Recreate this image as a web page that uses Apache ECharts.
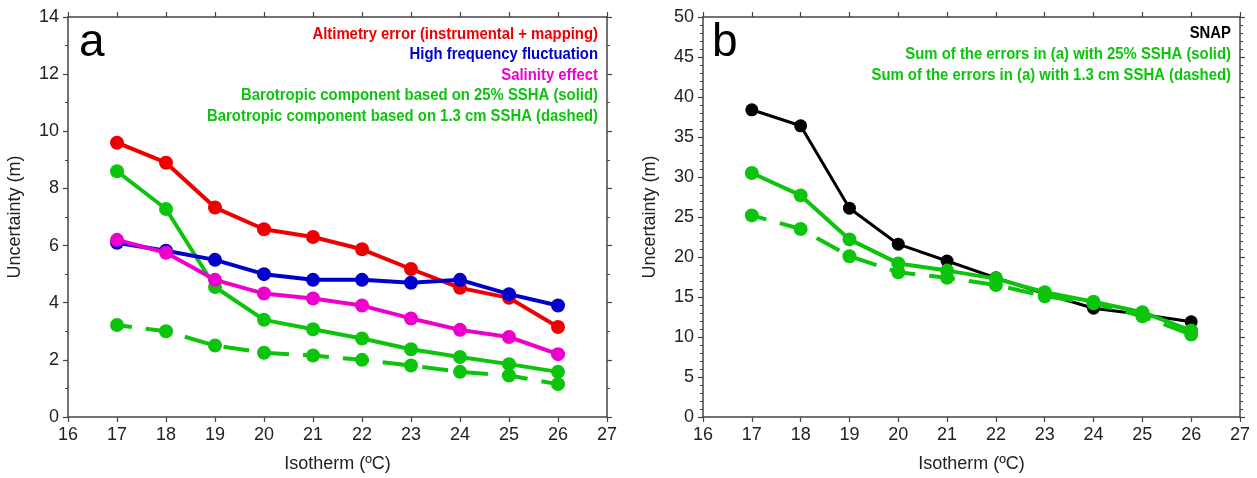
<!DOCTYPE html>
<html>
<head>
<meta charset="utf-8">
<script src="https://cdn.jsdelivr.net/npm/echarts@6/dist/echarts.min.js"></script>
<style>
  html, body { margin: 0; padding: 0; background: #fff; }
  #chart { width: 1257px; height: 478px; }
</style>
</head>
<body>
<div id="chart"></div>
<script>
// Isotherm depths (ºC) shared by both panels
const isotherms = [17, 18, 19, 20, 21, 22, 23, 24, 25, 26];

// Panel a: individual error components (m)
const altimetryError   = [9.6, 8.9, 7.33, 6.57, 6.3, 5.87, 5.18, 4.52, 4.17, 3.15];
const highFreqFluct    = [6.1, 5.82, 5.5, 5.0, 4.8, 4.8, 4.7, 4.8, 4.3, 3.9];
const salinityEffect   = [6.2, 5.75, 4.8, 4.32, 4.15, 3.9, 3.45, 3.05, 2.8, 2.2];
const barotropicSolid  = [8.6, 7.28, 4.55, 3.4, 3.07, 2.75, 2.37, 2.1, 1.85, 1.58];
const barotropicDashed = [3.22, 3.0, 2.5, 2.25, 2.15, 2.0, 1.8, 1.58, 1.45, 1.15];

// Panel b: total uncertainty (m)
const snap      = [38.4, 36.4, 26.1, 21.6, 19.5, 17.4, 15.4, 13.6, 12.8, 11.9];
const sumSolid  = [30.5, 27.7, 22.2, 19.2, 18.3, 17.3, 15.6, 14.4, 13.1, 10.8];
const sumDashed = [25.2, 23.5, 20.1, 18.1, 17.4, 16.5, 15.1, 14.2, 12.6, 10.3];

const GREEN = '#0dc40d';

// Legend captions
const legendA = [
  ['Altimetry error (instrumental + mapping)', '#ee0000'],
  ['High frequency fluctuation', '#0000cc'],
  ['Salinity effect', '#ee00cc'],
  ['Barotropic component based on 25% SSHA (solid)', GREEN],
  ['Barotropic component based on 1.3 cm SSHA (dashed)', GREEN]
];
const legendB = [
  ['SNAP', '#000000'],
  ['Sum of the errors in (a) with 25% SSHA (solid)', GREEN],
  ['Sum of the errors in (a) with 1.3 cm SSHA (dashed)', GREEN]
];

const FRAME = '#444444';
const LABEL_FONT = 'Liberation Sans, Arial, Helvetica, sans-serif';
const LEGEND_FONT = 'bold 17px "Liberation Sans", Arial, sans-serif';
const DASH = [26, 14];

const pairs = vals => isotherms.map((t, i) => [t, vals[i]]);

function xAxes(gridIndex) {
  const base = {
    type: 'value', gridIndex, min: 16, max: 27, interval: 1,
    axisLine: { show: true, onZero: false, lineStyle: { color: FRAME, width: 1.5 } },
    axisTick: { show: true, inside: false, length: 5, lineStyle: { color: FRAME, width: 1.2 } },
    splitLine: { show: false }
  };
  return [
    Object.assign({}, base, {
      position: 'bottom',
      name: 'Isotherm (ºC)', nameLocation: 'middle', nameGap: 38,
      nameTextStyle: { fontFamily: LABEL_FONT, fontSize: 18, color: '#222' },
      axisLabel: { fontFamily: LABEL_FONT, fontSize: 18, color: '#222', margin: 9 }
    }),
    Object.assign({}, base, { position: 'top', axisLabel: { show: false } })
  ];
}

function yAxes(gridIndex, max, interval, minorSplit) {
  const base = {
    type: 'value', gridIndex, min: 0, max, interval,
    axisLine: { show: true, onZero: false, lineStyle: { color: FRAME, width: 1.5 } },
    axisTick: { show: true, inside: false, length: 5, lineStyle: { color: FRAME, width: 1.2 } },
    minorTick: { show: true, splitNumber: minorSplit, length: 3, lineStyle: { color: FRAME, width: 1 } },
    splitLine: { show: false }
  };
  return [
    Object.assign({}, base, {
      position: 'left',
      name: 'Uncertainty (m)', nameLocation: 'middle', nameGap: 44,
      nameTextStyle: { fontFamily: LABEL_FONT, fontSize: 18, color: '#222' },
      axisLabel: { fontFamily: LABEL_FONT, fontSize: 18, color: '#222', margin: 9 }
    }),
    Object.assign({}, base, { position: 'right', axisLabel: { show: false } })
  ];
}

function line(name, vals, color, xi, yi, opts) {
  opts = opts || {};
  return {
    name, type: 'line', xAxisIndex: xi, yAxisIndex: yi,
    data: pairs(vals),
    symbol: 'circle', symbolSize: opts.size || 14,
    showSymbol: true, animation: false,
    itemStyle: { color },
    lineStyle: Object.assign(
      { color, width: opts.width || 4, type: opts.dash || 'solid' },
      opts.dash ? { dashOffset: 11 } : {}
    ),
    z: opts.z || 2
  };
}

// Right-aligned, horizontally condensed caption lines
function legendText(items, rightEdge, centers) {
  return items.map((it, i) => ({
    type: 'text', x: rightEdge, y: centers[i], scaleX: 0.875,
    style: { text: it[0], fill: it[1], font: LEGEND_FONT, align: 'right', verticalAlign: 'middle' }
  }));
}

const chart = echarts.init(document.getElementById('chart'), null, { renderer: 'canvas' });
chart.setOption({
  backgroundColor: '#ffffff',
  animation: false,
  grid: [
    { left: 68, top: 17, width: 539, height: 405 },
    { left: 703, top: 17, width: 537, height: 405 }
  ],
  xAxis: [...xAxes(0), ...xAxes(1)],
  yAxis: [...yAxes(0, 14, 2, 2), ...yAxes(1, 50, 5, 5)],
  series: [
    line('Barotropic (dashed)', barotropicDashed, GREEN, 0, 0, { dash: DASH, z: 2 }),
    line('Barotropic (solid)', barotropicSolid, GREEN, 0, 0, { z: 3 }),
    line('Altimetry error', altimetryError, '#ee0000', 0, 0, { z: 4 }),
    line('High frequency fluctuation', highFreqFluct, '#0000cc', 0, 0, { z: 5 }),
    line('Salinity effect', salinityEffect, '#ee00cc', 0, 0, { z: 6 }),
    line('SNAP', snap, '#000000', 2, 2, { width: 3, size: 13, z: 2 }),
    line('Sum (dashed)', sumDashed, GREEN, 2, 2, { dash: DASH, z: 3 }),
    line('Sum (solid)', sumSolid, GREEN, 2, 2, { z: 4 })
  ],
  graphic: [
    { type: 'text', left: 79, top: 20, style: { text: 'a', fill: '#000', font: '46px "Liberation Sans", Arial, sans-serif' } },
    { type: 'text', left: 712, top: 20, style: { text: 'b', fill: '#000', font: '46px "Liberation Sans", Arial, sans-serif' } },
    ...legendText(legendA, 598, [34, 54.5, 75, 95.5, 116]),
    ...legendText(legendB, 1231, [33, 54, 75])
  ]
});
</script>
</body>
</html>
